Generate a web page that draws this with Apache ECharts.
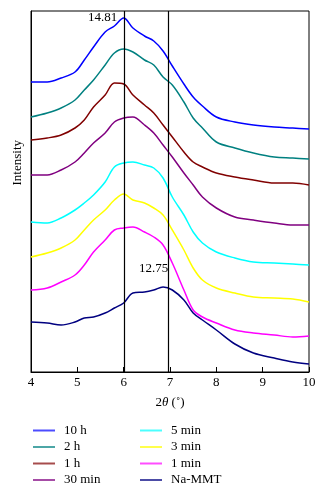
<!DOCTYPE html>
<html><head><meta charset="utf-8">
<script src="https://cdn.jsdelivr.net/npm/echarts@6/dist/echarts.min.js"></script>
<style>html,body{margin:0;padding:0;background:#fff}#c{width:327px;height:500px}</style>
</head><body><div id="c"></div>
<script>
var xs = [4.0,4.35,4.65,4.95,5.15,5.35,5.6,5.8,6.0,6.2,6.45,6.65,6.85,7.05,7.3,7.5,7.7,8.0,8.4,8.8,9.25,9.65,10];
var names = ['10 h','2 h','1 h','30 min','5 min','3 min','1 min','Na-MMT'];
var colors = ['#0000ff','#008080','#800000','#800080','#00ffff','#ffff00','#ff00ff','#000080'];
var s10h = [290,290,294,300,312,325,340,346,354,344,336,331,321,306,288,275,266,255,250,247,245,244,243];
var s2h  = [255,259,264,272,282,292,307,319,323,320,312,307,295,287,270,254,244,230,224,219,215,214,213];
var s1h  = [232,234,237,244,252,265,277,289,288,277,267,259,247,235,220,210,205,199,195,192,189,189,187];
var s30m = [197,197,202,210,219,229,239,250,254,255,247,239,227,215,199,187,175,164,155,152,149,147,147];
var s5m  = [150,149,154,162,169,177,190,205,209,210,207,204,194,175,157,140,129,120,114,110,109,108,107];
var s3m  = [115,119,124,132,142,152,162,172,178,172,169,164,157,142,122,104,92,84,79,75,74,73,70];
var s1m  = [82,84,90,97,107,120,132,142,144,145,140,135,127,109,82,62,55,49,42,39,37,35,36];
var sNa  = [50,49,47,50,54,55,59,64,69,79,80,82,85,82,72,59,52,42,28,19,14,10,8];
var refLines = [6.01, 6.97];
var peakLabels = [{text:'14.81', x:5.86, y:354}, {text:'12.75', x:6.96, y:103}];

var all = [s10h,s2h,s1h,s30m,s5m,s3m,s1m,sNa];
var FONT = 'Liberation Serif';
var series = all.map(function(arr,i){
  return {
    name: names[i], type:'line', symbol:'none', animation:false, smooth:0.35,
    data: xs.map(function(x,j){return [x,arr[j]];}),
    lineStyle:{color:colors[i], width:1.5}, itemStyle:{color:colors[i]}, z: 2
  };
});
series[0].markLine = {
  silent:true, symbol:['none','none'], label:{show:false},
  lineStyle:{color:'#000', width:1.2, type:'solid'},
  data: refLines.map(function(v){return {xAxis:v};})
};
series[0].markPoint = {
  symbol:'circle', symbolSize:0,
  label:{show:true, position:'left', distance:0, color:'#000', fontFamily:FONT, fontSize:13,
    formatter:function(p){return p.name;}},
  data: peakLabels.map(function(p){return {name:p.text, coord:[p.x,p.y]};})
};

var chart = echarts.init(document.getElementById('c'));
var legendCommon = {orient:'vertical', itemWidth:22, itemHeight:2, itemGap:3.5, icon:'rect',
  textStyle:{fontFamily:FONT, fontSize:13, color:'#000', padding:[0,0,0,4]}, itemStyle:{opacity:0.7}};
chart.setOption({
  animation:false,
  grid:{left:31, right:18, top:11, bottom:128, show:true, borderColor:'#000', borderWidth:1},
  xAxis:{type:'value', min:4, max:10, interval:1,
    axisLine:{lineStyle:{color:'#000'}}, axisTick:{inside:true, length:5, lineStyle:{color:'#000'}},
    splitLine:{show:false},
    axisLabel:{color:'#000', fontFamily:FONT, fontSize:13, margin:4},
    name:'2{i|θ} (˚)', nameLocation:'middle', nameGap:24,
    nameTextStyle:{color:'#000', fontFamily:FONT, fontSize:13,
      rich:{i:{fontStyle:'italic', fontFamily:FONT, fontSize:13, color:'#000'}}}
  },
  yAxis:{type:'value', min:0, max:361, axisLabel:{show:false}, axisTick:{show:false},
    splitLine:{show:false}, axisLine:{show:true, lineStyle:{color:'#000'}}},
  graphic:[{type:'text', left:11, top:140, rotation:Math.PI/2,
    style:{text:'Intensity', fill:'#000', font:'13px "Liberation Serif"'}}],
  legend:[
    Object.assign({data:names.slice(0,4), left:28, top:419}, legendCommon),
    Object.assign({data:names.slice(4), left:135, top:419}, legendCommon)
  ],
  series: series
});
</script></body></html>
